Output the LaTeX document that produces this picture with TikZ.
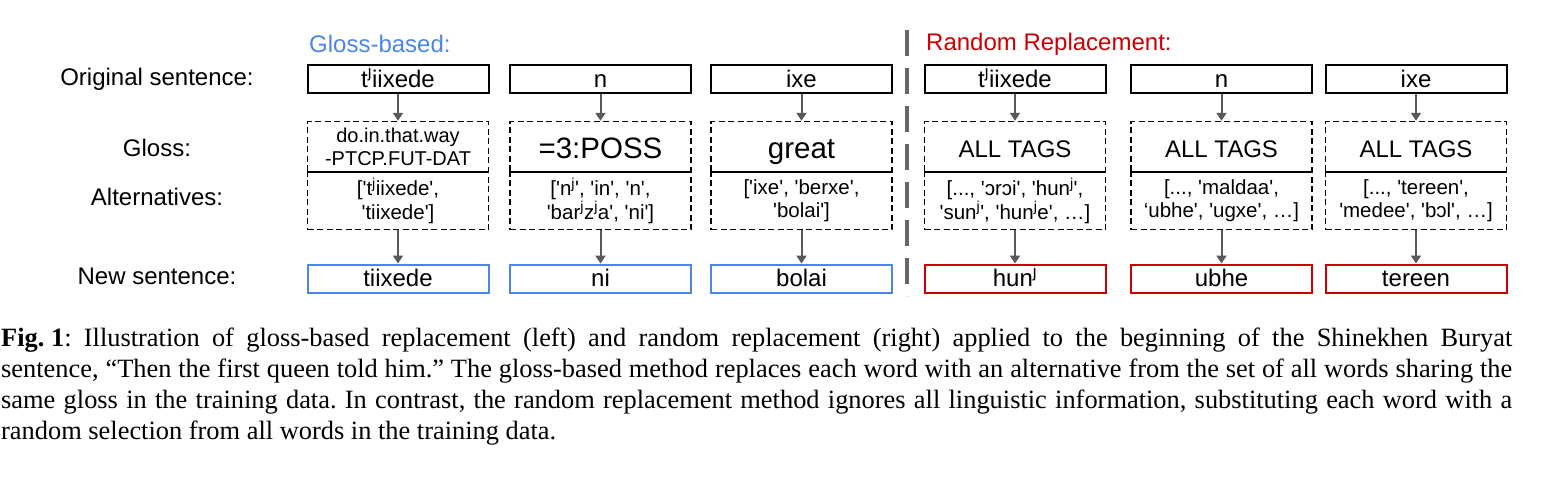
\documentclass[tikz,border=0pt]{standalone}
\usepackage{fontspec}
\setmainfont{Liberation Sans}
\newfontfamily\capfont{Liberation Serif}
\usetikzlibrary{arrows.meta}
\definecolor{gblue}{HTML}{4A86E8}
\definecolor{rred}{HTML}{CC0000}
\definecolor{agray}{HTML}{595959}
\definecolor{dgray}{HTML}{666666}
\newcommand\sq{\textquotesingle}
\newcommand\pj{\textsuperscript{j}}
\begin{document}
\begin{tikzpicture}[x=1pt,y=-1pt,
 rowlbl/.style={font=\fontsize{24}{28}\selectfont, inner sep=0pt},
 hdr/.style={font=\fontsize{24}{28}\selectfont, anchor=west, inner sep=0pt},
 orig/.style={draw=black, line width=2pt, minimum width=181pt, minimum height=28pt, inner sep=0pt, text height=19pt, text depth=3pt, font=\fontsize{24}{28}\selectfont},
 newg/.style={orig, draw=gblue},
 newr/.style={orig, draw=rred},
 glossbox/.style={draw=black, line width=1.5pt, dash pattern=on 6pt off 3.5pt, minimum width=181pt, minimum height=50.5pt, inner sep=0pt, align=center},
 glosssm/.style={glossbox, font=\fontsize{20}{23}\selectfont},
 glossbig/.style={glossbox, text height=25pt, text depth=1.5pt, font=\fontsize{29.5}{33}\selectfont},
 glossmid/.style={glossbox, text height=21.5pt, text depth=1pt, font=\fontsize{24}{28}\selectfont},
 altbox/.style={glossbox, minimum height=57.5pt, font=\fontsize{20.5}{23.5}\selectfont},
 flow/.style={draw=agray, line width=2pt, -{Triangle[length=8pt,width=10pt]}},
 divider/.style={draw=dgray, line width=4pt, dash pattern=on 26pt off 12pt},
 capstyle/.style={anchor=north west, inner sep=0pt, align=left, font=\capfont\fontsize{26.4}{31}\selectfont\frenchspacing},
]
\useasboundingbox (0,0) rectangle (1566,477);

% row labels
\node[rowlbl] (lorig) at (157,79) {Original sentence:};
\node[rowlbl] (lgloss) at (157,148) {Gloss:};
\node[rowlbl] (lalt) at (157,197) {Alternatives:};
\node[rowlbl] (lnew) at (157,276) {New sentence:};

% headers
\node[hdr, text=gblue] (hg) at (309,44) {Gloss-based:};
\node[hdr, text=rred] (hr) at (926,44) {Random Replacement:};

% divider
\coordinate (dtop) at (907,30);
\coordinate (dbot) at (907,296);
\draw[divider] (dtop) -- (dbot);

% column 1
\node[orig] (o1) at (398,79) {t\pj iixede};
\node[glosssm] (g1) at (398,146.75) {do.in.that.way\\-PTCP.FUT-DAT};
\node[altbox] (a1) at (398,200.75) {[\sq t\pj iixede\sq,\\\sq tiixede\sq]};
\node[newg] (n1) at (398,278.5) {tiixede};
% column 2
\node[orig] (o2) at (600.5,79) {n};
\node[glossbig] (g2) at (600.5,146.75) {=3:POSS};
\node[altbox] (a2) at (600.5,200.75) {[\sq n\pj\sq, \sq in\sq, \sq n\sq,\\\sq bar\pj z\pj a\sq, \sq ni\sq]};
\node[newg] (n2) at (600.5,278.5) {ni};
% column 3
\node[orig] (o3) at (801.5,79) {ixe};
\node[glossbig] (g3) at (801.5,146.75) {great};
\node[altbox] (a3) at (801.5,200.75) {[\sq ixe\sq, \sq berxe\sq,\\\sq bolai\sq]};
\node[newg] (n3) at (801.5,278.5) {bolai};
% column 4
\node[orig] (o4) at (1015,79) {t\pj iixede};
\node[glossmid] (g4) at (1015,146.75) {ALL TAGS};
\node[altbox] (a4) at (1015,200.75) {[..., \sq ɔrɔi\sq, \sq hun\pj\sq,\\\sq sun\pj\sq, \sq hun\pj e\sq, …]};
\node[newr] (n4) at (1015,278.5) {hun\pj};
% column 5
\node[orig] (o5) at (1221.5,79) {n};
\node[glossmid] (g5) at (1221.5,146.75) {ALL TAGS};
\node[altbox] (a5) at (1221.5,200.75) {[..., \sq maldaa\sq,\\‘ubhe\sq, \sq ugxe\sq, …]};
\node[newr] (n5) at (1221.5,278.5) {ubhe};
% column 6
\node[orig] (o6) at (1416,79) {ixe};
\node[glossmid] (g6) at (1416,146.75) {ALL TAGS};
\node[altbox] (a6) at (1416,200.75) {[..., \sq tereen\sq,\\\sq medee\sq, \sq bɔl\sq, …]};
\node[newr] (n6) at (1416,278.5) {tereen};

\foreach \i in {1,...,6} {
  \draw[flow] (o\i.south) -- (g\i.north);
  \draw[flow] (a\i.south) -- (n\i.north);
}

% caption
\node[capstyle] (cap) at (1,328) {%
\makebox[1511pt][s]{\textbf{\mbox{Fig. 1}}: Illustration of gloss-based replacement (left) and random replacement (right) applied to the beginning of the Shinekhen Buryat}\\
\makebox[1511pt][s]{sentence, “Then the first queen told him.” The gloss-based method replaces each word with an alternative from the set of all words sharing the}\\
\makebox[1511pt][s]{same gloss in the training data. In contrast, the random replacement method ignores all linguistic information, substituting each word with a}\\
random selection from all words in the training data.};
\end{tikzpicture}
\end{document}
